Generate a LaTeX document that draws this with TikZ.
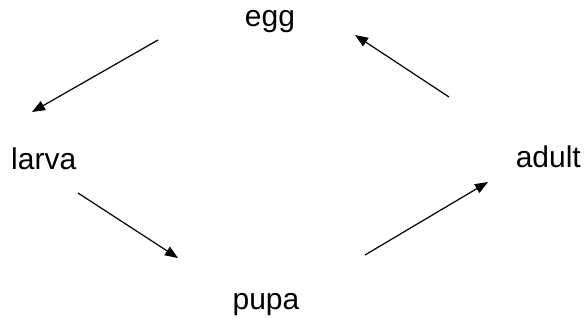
\documentclass[tikz,border=0pt]{standalone}
\usepackage{fontspec}
\setmainfont{Liberation Sans}
\usepackage{tikz}
\usetikzlibrary{arrows.meta,positioning}

\tikzset{
  stage/.style={inner sep=0pt, font=\fontsize{30}{34}\selectfont},
  cycle arrow/.style={line width=1.2pt, -{Triangle[length=13pt,width=10pt]}}
}

\begin{document}
\begin{tikzpicture}[x=1pt, y=-1pt]
  \useasboundingbox (0, 0) rectangle (586, 321);

  % Stages
  \node[stage, anchor=base] (egg) at (270, 27) {egg};
  \node[stage, anchor=base west] (larva) at (11, 169) {larva};
  \node[stage, anchor=base] (pupa) at (266, 309) {pupa};
  \node[stage, anchor=base east] (adult) at (581, 167) {adult};

  % Arrow ends
  \coordinate (egg out) at (158, 40);
  \coordinate (larva in) at (32, 112);
  \coordinate (larva out) at (78, 193);
  \coordinate (pupa in) at (178, 258);
  \coordinate (pupa out) at (365, 255);
  \coordinate (adult in) at (488, 182);
  \coordinate (adult out) at (449, 97);
  \coordinate (egg in) at (355, 35);

  % Life cycle
  \draw[cycle arrow] (egg out) -- (larva in);
  \draw[cycle arrow] (larva out) -- (pupa in);
  \draw[cycle arrow] (pupa out) -- (adult in);
  \draw[cycle arrow] (adult out) -- (egg in);

\end{tikzpicture}
\end{document}
